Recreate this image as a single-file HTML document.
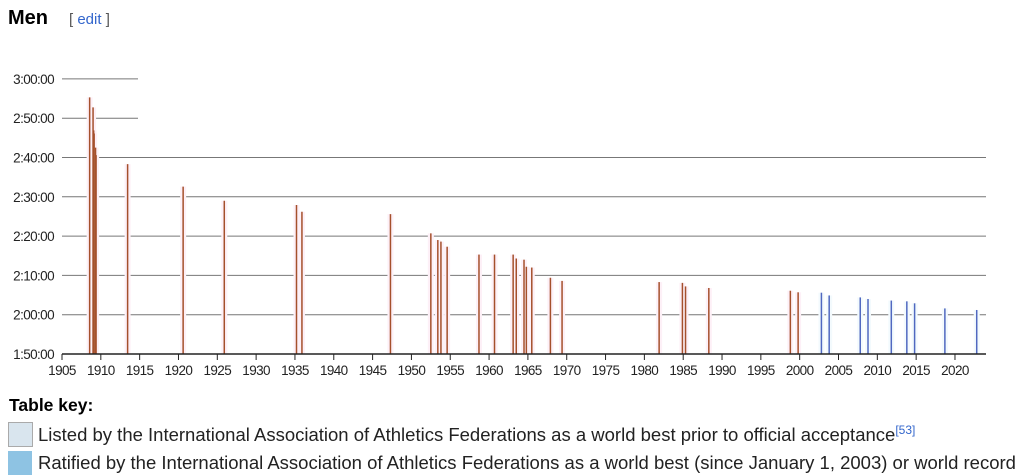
<!DOCTYPE html>
<html><head><meta charset="utf-8"><style>
body{margin:0;width:1024px;height:475px;overflow:hidden;background:#fff;font-family:"Liberation Sans",Arial,sans-serif;position:relative}
.abs{position:absolute;white-space:nowrap}
</style></head><body>
<div class="abs" style="left:8px;top:7px;font-size:20px;font-weight:bold;color:#000">Men</div>
<div class="abs" style="left:69px;top:11px;font-size:15px;color:#555">[ <span style="color:#3366cc">edit</span> ]</div>
<svg class="abs" style="left:0;top:0" width="1024" height="390">
<g id="grid"></g><g id="bars"></g><g id="axes"></g>
</svg>
<div class="abs" style="left:9px;top:395px;font-size:17.5px;font-weight:bold">Table key:</div>
<div class="abs" style="left:8px;top:422px;width:23px;height:23px;background:#d9e5ee;border:1px solid #aaa"></div>
<div class="abs" style="left:38px;top:423px;font-size:18.5px;color:#222">Listed by the International Association of Athletics Federations as a world best prior to official acceptance<sup style="color:#3366cc;font-size:12px">[53]</sup></div>
<div class="abs" style="left:8px;top:451px;width:24px;height:24px;background:#8ec3e3"></div>
<div class="abs" style="left:38px;top:452px;font-size:18.5px;color:#222">Ratified by the International Association of Athletics Federations as a world best (since January 1, 2003) or world record</div>
<script>
const years=[1908.56,1909.0,1909.08,1909.14,1909.32,1909.39,1913.45,1920.6,1925.9,1935.2,1935.9,1947.3,1952.5,1953.4,1953.8,1954.6,1958.7,1960.7,1963.1,1963.5,1964.5,1964.8,1965.5,1967.9,1969.4,1981.9,1984.9,1985.3,1988.3,1998.8,1999.8,2002.8,2003.8,2007.8,2008.8,2011.8,2013.8,2014.8,2018.7,2022.8];
const minutes=[175.3,172.75,166.9,166.1,162.5,160.6,158.3,152.6,149.0,147.9,146.2,145.6,140.7,139.0,138.6,137.3,135.3,135.3,135.3,134.3,134.0,132.2,132.0,129.4,128.6,128.3,128.1,127.2,126.8,126.1,125.7,125.6,124.9,124.4,124.0,123.6,123.4,122.9,121.6,121.2];
const ratified=[0,0,0,0,0,0,0,0,0,0,0,0,0,0,0,0,0,0,0,0,0,0,0,0,0,0,0,0,0,0,0,1,1,1,1,1,1,1,1,1];
const xTicks=[1905,1910,1915,1920,1925,1930,1935,1940,1945,1950,1955,1960,1965,1970,1975,1980,1985,1990,1995,2000,2005,2010,2015,2020];
const yTicks=[110,120,130,140,150,160,170,180];
const yLabels=["1:50:00","2:00:00","2:10:00","2:20:00","2:30:00","2:40:00","2:50:00","3:00:00"];
const X=y=>62+(y-1905)*7.765, Y=m=>354-(m-110)*3.93;
const NS="http://www.w3.org/2000/svg";
function mk(p,t,a){const e=document.createElementNS(NS,t);for(const k in a)e.setAttribute(k,a[k]);document.getElementById(p).appendChild(e);return e;}
yTicks.forEach((v,i)=>{
 const y=Y(v);
 if(i>0){const l=mk('grid','line',{x1:62,x2:v>=170?138:986,y1:y,y2:y,stroke:'#777','stroke-width':1});
 
 }
 const t=mk('axes','text',{x:54,y:y+5,'text-anchor':'end','font-size':13.5,fill:'#222','letter-spacing':'-0.6'});
 t.textContent=yLabels[i];
 
 
});
years.forEach((yr,i)=>{
 const x=X(yr),top=Y(minutes[i]);
 const h=mk('bars','rect',{x:x-3,y:top,width:6,height:354-top,fill:ratified[i]?'#f3fafd':'#fdf0f7'});
 
 
});
years.forEach((yr,i)=>{
 const x=X(yr),top=Y(minutes[i]);
 const b=mk('bars','line',{x1:x,x2:x,y1:top,y2:354,stroke:ratified[i]?'#5068c0':'#a5502c','stroke-width':1.5});
 
 
});
const ax=mk('axes','line',{x1:62,x2:986,y1:354,y2:354,stroke:'#222','stroke-width':1.5});


xTicks.forEach(v=>{
 const x=X(v);
 const tk=mk('axes','line',{x1:x,x2:x,y1:354,y2:360,stroke:'#222'});
 
 
 const t=mk('axes','text',{x:x,y:375,'text-anchor':'middle','font-size':13.5,fill:'#222','letter-spacing':'-0.6'});
 t.textContent=v;
 
 
});
</script>
</body></html>
